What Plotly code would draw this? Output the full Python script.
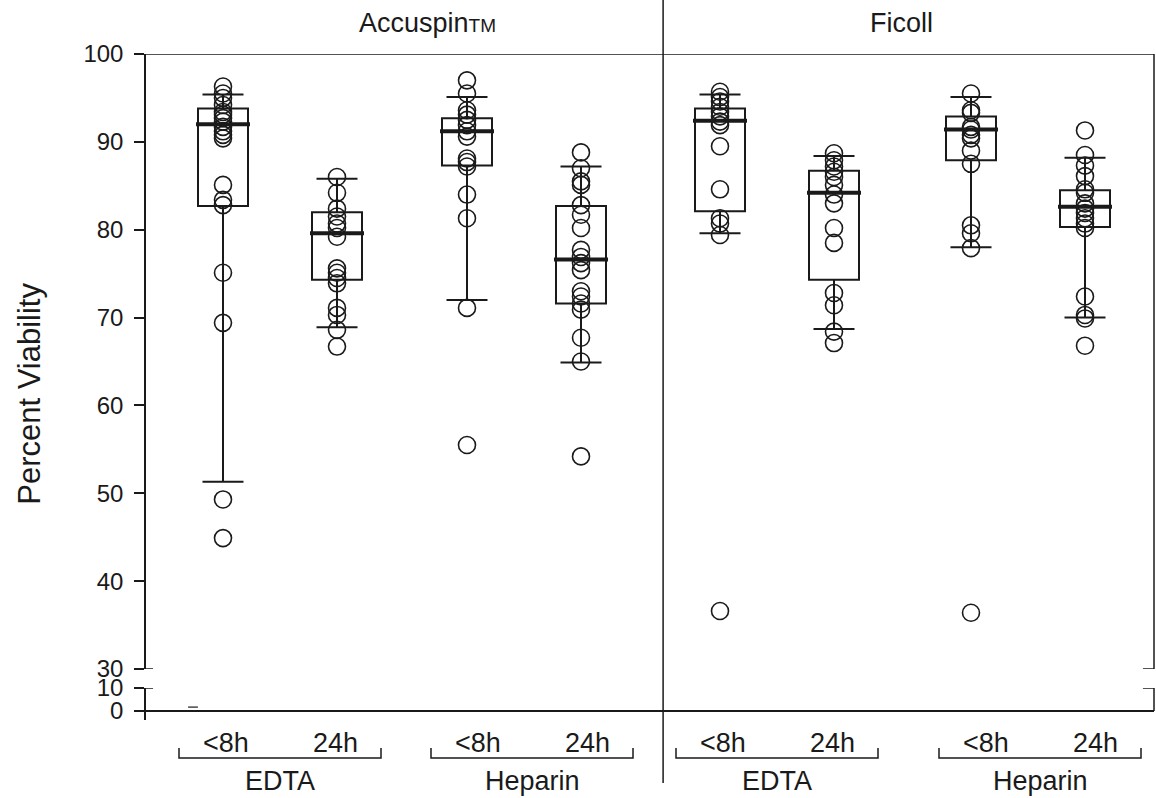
import plotly.graph_objects as go

# ---------------- data ----------------
methods = ["Accuspin", "Ficoll"]
anticoag = ["EDTA", "Heparin"]
times = ["<8h", "24h"]

acc_edta_8h = [96.3, 95.5, 95.0, 94.2, 93.4, 93.1, 92.7, 92.3, 91.7, 91.2, 90.8, 90.4, 85.1, 83.4, 82.8, 75.1, 69.4, 49.3, 44.9]
acc_edta_24h = [86.0, 84.2, 82.4, 81.5, 80.7, 80.2, 79.2, 75.6, 75.1, 74.5, 73.9, 71.1, 70.3, 68.6, 66.7]
acc_hep_8h = [97.0, 95.5, 93.6, 93.1, 92.5, 91.9, 91.2, 90.6, 88.1, 87.7, 87.2, 84.0, 81.3, 71.1, 55.5]
acc_hep_24h = [88.8, 87.0, 85.5, 85.1, 82.8, 81.7, 80.2, 77.7, 76.9, 76.2, 75.4, 73.0, 72.4, 71.6, 70.9, 67.7, 65.0, 54.2]
fic_edta_8h = [95.7, 95.1, 94.6, 94.0, 93.4, 92.9, 92.3, 91.9, 89.5, 84.6, 81.3, 80.7, 79.4, 36.6]
fic_edta_24h = [88.7, 87.9, 87.2, 86.6, 86.0, 85.1, 84.0, 83.0, 80.2, 78.5, 72.8, 71.4, 68.4, 67.1]
fic_hep_8h = [95.5, 93.6, 93.3, 91.7, 91.4, 90.8, 90.4, 89.0, 87.5, 80.5, 79.6, 77.9, 36.4]
fic_hep_24h = [91.3, 88.5, 87.3, 86.1, 84.6, 84.2, 83.0, 82.4, 81.9, 81.3, 80.7, 80.2, 72.4, 70.3, 69.9, 66.8]

# box summary statistics, same order as the groups
q1_vals = [82.7, 74.3, 87.3, 71.6, 82.1, 74.3, 87.9, 80.3]
median_vals = [92.0, 79.6, 91.2, 76.6, 92.4, 84.2, 91.4, 82.6]
q3_vals = [93.8, 82.0, 92.7, 82.7, 93.8, 86.7, 92.9, 84.5]
whisker_low = [51.3, 68.9, 72.0, 64.9, 79.6, 68.7, 78.0, 70.0]
whisker_high = [95.4, 85.8, 95.1, 87.2, 95.4, 88.4, 95.1, 88.2]

# small mark near zero in the lower (broken) axis segment
low_mark_value = [1.7]

y_ticks_upper = [30, 40, 50, 60, 70, 80, 90, 100]
y_ticks_lower = [0, 10]

groups = [acc_edta_8h, acc_edta_24h, acc_hep_8h, acc_hep_24h,
          fic_edta_8h, fic_edta_24h, fic_hep_8h, fic_hep_24h]

# ---------------- layout helpers ----------------
BASE, T_STEP, G_STEP, P_STEP = 0.77, 1.14, 2.44, 4.97
G_EXTRA = [0.0, 0.07]          # extra shift of the Heparin pair in each panel
BR_SHIFT = [0.0, 0.08, 0.0, 0.12]  # bracket offsets relative to pair centre
positions = []
for p in range(2):
    for g in range(2):
        for t in range(2):
            positions.append(BASE + t * T_STEP + g * (G_STEP + G_EXTRA[p]) + p * P_STEP)

INK = "#1a1a1a"
FONT = "Liberation Sans, Arial, sans-serif"
BOX_W = 0.5

fig = go.Figure()

for i, vals in enumerate(groups):
    pos = positions[i]
    fig.add_trace(go.Box(
        x=[pos], q1=[q1_vals[i]], median=[median_vals[i]], q3=[q3_vals[i]],
        lowerfence=[whisker_low[i]], upperfence=[whisker_high[i]],
        width=BOX_W, whiskerwidth=0.82, boxpoints=False,
        line=dict(color=INK, width=2), fillcolor="rgba(0,0,0,0)",
        showlegend=False, hoverinfo="skip", xaxis="x", yaxis="y"))
    fig.add_trace(go.Scatter(
        x=[pos] * len(vals), y=vals, mode="markers",
        marker=dict(symbol="circle-open", size=17, color=INK, line=dict(width=1.6, color=INK)),
        showlegend=False, xaxis="x", yaxis="y"))
    fig.add_trace(go.Scatter(
        x=[pos - 0.27, pos + 0.27], y=[median_vals[i]] * 2, mode="lines",
        line=dict(color=INK, width=4), showlegend=False, hoverinfo="skip",
        xaxis="x", yaxis="y"))

fig.add_trace(go.Scatter(
    x=[positions[0] - 0.3], y=low_mark_value, mode="markers",
    marker=dict(symbol="line-ew", size=7, line=dict(width=1.2, color=INK)),
    showlegend=False, xaxis="x", yaxis="y2"))

# ---------------- decorations ----------------
LW = 1.5
shapes = []
shapes.append(dict(type="line", xref="paper", yref="y", x0=0, x1=1, y0=100, y1=100,
                   line=dict(color=INK, width=LW)))
shapes.append(dict(type="line", xref="paper", yref="y", x0=1, x1=1, y0=30, y1=100,
                   line=dict(color=INK, width=LW)))
shapes.append(dict(type="line", xref="paper", yref="y2", x0=1, x1=1, y0=0, y1=10,
                   line=dict(color=INK, width=LW)))
for yref, yv in (("y", 30), ("y2", 10)):
    shapes.append(dict(type="line", xref="paper", yref=yref, x0=0, x1=0.007, y0=yv, y1=yv,
                       line=dict(color=INK, width=LW)))
    shapes.append(dict(type="line", xref="paper", yref=yref, x0=0.989, x1=1, y0=yv, y1=yv,
                       line=dict(color=INK, width=LW)))
shapes.append(dict(type="line", xref="paper", yref="paper", x0=0.513, x1=0.513, y0=-0.0946, y1=1.085,
                   line=dict(color=INK, width=LW)))

annotations = []
BR_Y, BR_TICK_Y = -0.057, -0.042
for k in range(4):
    a, b = positions[2 * k], positions[2 * k + 1]
    c = (a + b) / 2 + BR_SHIFT[k]
    shapes.append(dict(type="path", xref="x", yref="paper",
                       path=f"M {c - 1.01},{BR_TICK_Y} L {c - 1.01},{BR_Y} L {c + 1.01},{BR_Y} L {c + 1.01},{BR_TICK_Y}",
                       line=dict(color=INK, width=LW)))
    for j, t in enumerate(times):
        annotations.append(dict(x=c + (-0.54 if j == 0 else 0.55), y=-0.034, xref="x", yref="paper",
                                text=t, showarrow=False, font=dict(size=27, color=INK, family=FONT),
                                xanchor="center", yanchor="middle"))
    annotations.append(dict(x=c, y=-0.0916, xref="x", yref="paper", text=anticoag[k % 2],
                            showarrow=False, font=dict(size=27, color=INK, family=FONT),
                            xanchor="center", yanchor="middle"))

annotations.append(dict(x=2.81, y=1.0465, xref="x", yref="paper",
                        text="Accuspin<span style='font-size:19px'>TM</span>", showarrow=False,
                        font=dict(size=27, color=INK, family=FONT), xanchor="center", yanchor="middle"))
annotations.append(dict(x=7.55, y=1.0465, xref="x", yref="paper", text="Ficoll", showarrow=False,
                        font=dict(size=27, color=INK, family=FONT), xanchor="center", yanchor="middle"))
annotations.append(dict(x=-0.115, y=0.49, xref="paper", yref="paper", text="Percent Viability",
                        textangle=-90, showarrow=False, font=dict(size=31, color=INK, family=FONT),
                        xanchor="center", yanchor="middle"))

axis_common = dict(showgrid=False, ticks="outside", ticklen=10, tickwidth=LW, tickcolor=INK,
                   showline=True, linewidth=LW, linecolor=INK,
                   tickfont=dict(size=24, color=INK, family=FONT), ticklabelstandoff=6)

fig.update_layout(
    width=1156, height=798,
    margin=dict(l=146, r=2, t=54, b=78),
    paper_bgcolor="white", plot_bgcolor="white",
    font=dict(family=FONT, color=INK),
    xaxis=dict(range=[0, 10.08], visible=False, zeroline=False, anchor="y2"),
    yaxis=dict(domain=[51 / 666, 1], range=[30, 100], tickvals=y_ticks_upper, zeroline=False,
               anchor="x", **axis_common),
    yaxis2=dict(domain=[0, 32 / 666], range=[-3.91, 10], tickvals=y_ticks_lower, zeroline=True,
                zerolinecolor=INK, zerolinewidth=LW, anchor="x", **axis_common),
    shapes=shapes, annotations=annotations, showlegend=False,
)

fig.write_html("out.html", config={"displayModeBar": False},
               post_script="document.body.style.margin='0';")
